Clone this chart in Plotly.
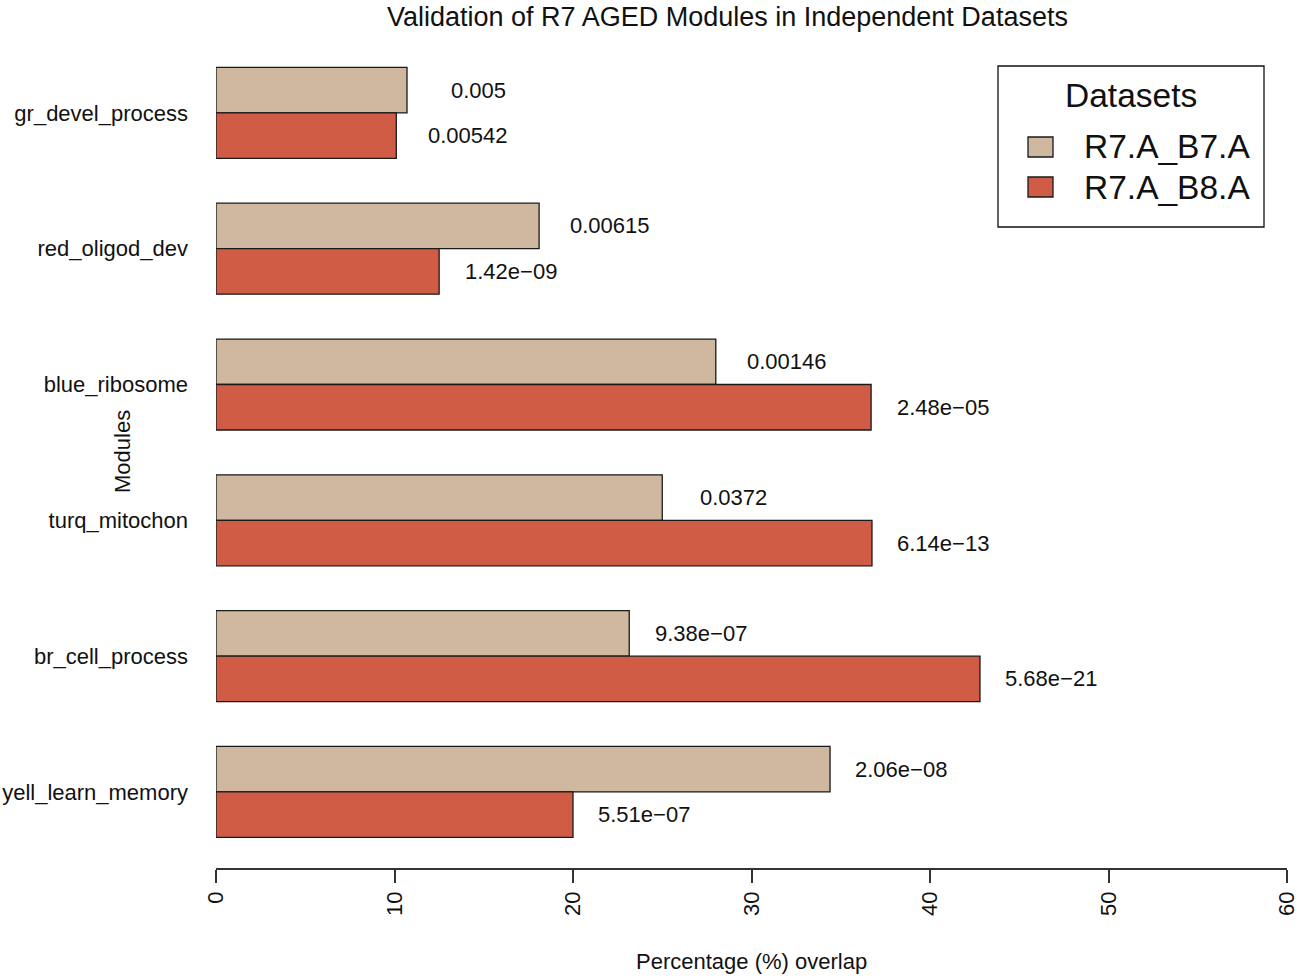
import plotly.graph_objects as go

# modules top-to-bottom as drawn
modules = ["gr_devel_process", "red_oligod_dev", "blue_ribosome",
           "turq_mitochon", "br_cell_process", "yell_learn_memory"]
datasets = ["R7.A_B7.A", "R7.A_B8.A"]
colors = ["#CFB89F", "#D05C46"]

# percentage overlap per dataset
pct_b7 = [10.7, 18.1, 28.0, 25.0, 23.15, 34.4]
pct_b8 = [10.1, 12.5, 36.7, 36.75, 42.8, 20.0]

# p-value labels per dataset
pval_b7 = ["0.005", "0.00615", "0.00146", "0.0372", "9.38e\u221207", "2.06e\u221208"]
pval_b8 = ["0.00542", "1.42e\u221209", "2.48e\u221205", "6.14e\u221213", "5.68e\u221221", "5.51e\u221207"]

x_ticks = [0, 10, 20, 30, 40, 50, 60]

FONT = "Liberation Sans, Arial, Helvetica, sans-serif"
W, H = 1300, 979
L, R, T, B = 216, 13, 45, 111


def px_x(px):
    return (px - L) / (W - L - R)


def px_y(py):
    return (H - B - py) / (H - T - B)


fig = go.Figure()
for name, vals, col in zip(datasets, [pct_b7, pct_b8], colors):
    fig.add_trace(go.Bar(
        y=modules, x=vals, name=name, orientation="h",
        marker=dict(color=col, line=dict(color="#1a1a1a", width=1.3)),
        showlegend=False, hoverinfo="x+y"
    ))

# value labels, centred 4 units past the bar end
half = 0.1675
ann = []
for i, m in enumerate(modules):
    for k, (vals, labs) in enumerate([(pct_b7, pval_b7), (pct_b8, pval_b8)]):
        ann.append(dict(
            x=vals[i] + 4, y=i + (-half if k == 0 else half), xref="x", yref="y",
            text=labs[i], showarrow=False, xanchor="center", yanchor="middle",
            font=dict(family=FONT, size=22, color="#111")
        ))

ann.append(dict(x=px_x(727), y=px_y(0), xref="paper", yref="paper",
                text="Validation of R7 AGED Modules in Independent Datasets",
                showarrow=False, xanchor="center", yanchor="top",
                font=dict(family=FONT, size=27, color="#111")))
ann.append(dict(x=px_x(751), y=px_y(962), xref="paper", yref="paper",
                text="Percentage (%) overlap", showarrow=False,
                xanchor="center", yanchor="middle",
                font=dict(family=FONT, size=22, color="#111")))
ann.append(dict(x=px_x(122), y=px_y(452), xref="paper", yref="paper",
                text="Modules", showarrow=False, textangle=-90,
                xanchor="center", yanchor="middle",
                font=dict(family=FONT, size=22, color="#111")))

# legend drawn by hand, R style
shapes = [dict(type="rect", xref="paper", yref="paper",
               x0=px_x(998), x1=px_x(1264), y0=px_y(227), y1=px_y(66),
               line=dict(color="#111", width=1.3), fillcolor="white", layer="above")]
ann.append(dict(x=px_x(1131), y=px_y(96), xref="paper", yref="paper",
                text="Datasets", showarrow=False, xanchor="center", yanchor="middle",
                font=dict(family=FONT, size=33.5, color="#111")))
for j, (name, col) in enumerate(zip(datasets, colors)):
    cy = 147 + 40 * j
    shapes.append(dict(type="rect", xref="paper", yref="paper",
                       x0=px_x(1028), x1=px_x(1053), y0=px_y(cy + 10), y1=px_y(cy - 10),
                       line=dict(color="#1a1a1a", width=1.3), fillcolor=col, layer="above"))
    ann.append(dict(x=px_x(1082), y=px_y(cy), xref="paper", yref="paper",
                    text=name, showarrow=False, xanchor="left", yanchor="middle",
                    font=dict(family=FONT, size=33.5, color="#111")))

fig.update_layout(
    width=W, height=H,
    margin=dict(l=L, r=R, t=T, b=B),
    paper_bgcolor="white", plot_bgcolor="white",
    barmode="group", bargap=0.33, bargroupgap=0,
    font=dict(family=FONT, size=22, color="#111"),
    annotations=ann, shapes=shapes,
    xaxis=dict(range=[0, 60], tickvals=x_ticks, ticktext=[str(v) for v in x_ticks],
               tickangle=-90, ticks="outside", ticklen=13, tickwidth=1.5, tickcolor="#333",
               showline=True, linecolor="#333", linewidth=1.5, showgrid=False,
               zeroline=False, automargin=False,
               tickfont=dict(family=FONT, size=22, color="#111")),
    yaxis=dict(type="category", range=[5.56, -0.5], showgrid=False, showline=False,
               zeroline=False, ticks="", ticklabelstandoff=27, automargin=False,
               tickfont=dict(family=FONT, size=22, color="#111")),
)

# drop the default body margin so the figure sits at the page origin
fig.write_html("out.html", config={"displayModeBar": False},
               post_script="document.body.style.margin='0';document.body.style.overflow='hidden';")
